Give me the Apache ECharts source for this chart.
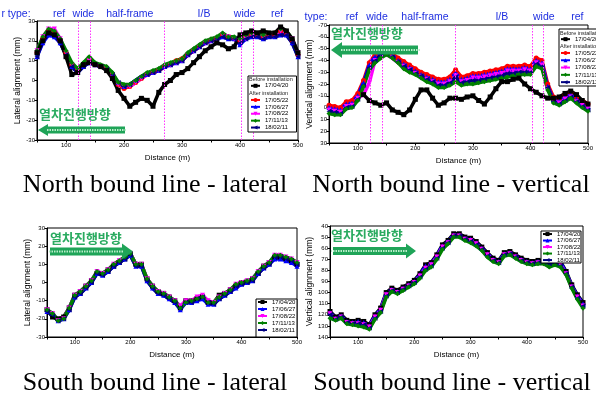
<!DOCTYPE html>
<html>
<head>
<meta charset="utf-8">
<script src="https://cdn.jsdelivr.net/npm/echarts@6/dist/echarts.min.js"></script>
<style>
html,body{margin:0;padding:0;background:#fff}
#chart{width:596px;height:395px}
</style>
</head>
<body>
<div id="chart"></div>
<script>
// distance along the line (m)
const distance = [50,60,70,80,90,100,110,120,130,140,150,160,170,180,190,200,210,220,230,240,250,260,270,280,290,300,310,320,330,340,350,360,370,380,390,400,410,420,430,440,450,460,470,480,490,500];

// north bound - lateral alignment (mm)
const nbLat0420 = [14,20,24,23,20,12,3,4,8,9,8,7,5,1,-5,-9,-13,-11,-9,-10,-13,-6,-2,0,3,4,6,9,12,15,17,19,18,16,17,23,24,25,24,25,24,24,27,25,21,14];
const nbLat0522 = [14,21,25,24,20,14,8,5,8,10,8,7,6,3,-2,-4,-3,-1,1,3,4,5,7,8,10,11,13,15,17,19,20,21,23,22,21,20,22,23,23,22,23,23,25,24,20,13];
const nbLat0627 = [12,19,23,22,19,13,7,4,7,9,8,7,6,3,-1,-3,-2,0,2,3,4,5,7,8,9,10,13,15,17,19,20,21,22,21,21,18,21,22,22,21,22,22,23,23,19,12];
const nbLat0822 = [15,22,26,26,21,14,8,5,8,10,8,7,6,3,-2,-3,-3,-1,1,3,4,5,7,8,9,10,13,15,17,19,20,21,23,22,21,20,21,23,23,22,23,23,25,24,21,14];
const nbLat1113 = [15,22,26,25,21,15,9,6,9,12,9,8,7,4,-1,-2,-2,0,2,4,5,6,8,9,10,11,14,16,18,20,21,22,24,22,22,21,23,24,24,23,24,24,26,25,21,14];
const nbLat0211 = [12,20,24,23,19,13,7,4,7,9,8,7,6,3,-1,-3,-2,0,2,3,4,5,7,8,9,10,13,15,17,19,20,21,22,21,21,19,21,22,22,21,22,22,23,23,19,12];

// north bound - vertical alignment (mm)
const nbVer0420 = [null,null,null,null,null,null,-11,-6,-4,-2,-4,2,4,6,2,-7,-15,-15,-8,-2,-4,-8,-8,-7,-9,-10,-6,-3,-9,-16,-22,-22,-24,-25,-20,-16,-13,-10,-8,-8,-9,-12,-14,-11,-6,-3];
const nbVer0522 = [-2,-1,0,-5,-6,-12,-23,-38,-45,-49,-49,-46,-42,-39,-36,-33,-30,-28,-26,-24,-24,-26,-32,-26,-27,-29,-29,-30,-31,-32,-33,-35,-35,-35,-36,-35,-42,-40,-20,-9,-8,-11,-13,-9,-6,-3];
const nbVer0627 = [0,1,2,-3,-4,-10,-21,-36,-43,-47,-47,-44,-40,-37,-34,-31,-28,-26,-24,-22,-22,-24,-29,-24,-25,-27,-27,-28,-29,-30,-31,-33,-33,-33,-34,-33,-40,-38,-18,-7,-6,-9,-11,-7,-4,-1];
const nbVer0822 = [2,3,4,-1,-2,-8,-11,-21,-40,-45,-45,-42,-38,-35,-32,-29,-26,-24,-22,-20,-20,-22,-27,-22,-23,-25,-25,-26,-27,-28,-29,-31,-31,-31,-32,-31,-38,-36,-16,-5,-4,-7,-9,-5,-2,1];
const nbVer1113 = [5,6,6,1,0,-6,-18,-32,-38,-42,-45,-42,-38,-33,-30,-28,-25,-22,-20,-17,-17,-19,-22,-19,-20,-20,-21,-22,-23,-24,-25,-26,-27,-28,-28,-28,-35,-33,-15,-4,-2,-5,-8,-4,0,3];
const nbVer0211 = [3,4,5,0,-1,-7,-19,-34,-40,-45,-46,-43,-39,-35,-32,-29,-27,-24,-22,-19,-19,-21,-26,-21,-22,-23,-23,-24,-25,-26,-27,-29,-29,-30,-30,-30,-37,-35,-17,-5,-3,-6,-9,-5,-1,2];

// south bound - lateral alignment (mm)
const sbLat0420 = [-15,-19,-20,-19,-14,-7,-5,-2,1,5,5,7,9,11,13,16,10,10,2,-2,-5,-6,-8,-10,-14,-10,-10,-9,-8,-11,-11,-7,-6,-4,-2,0,0,2,5,9,11,14,14,13,12,10];
const sbLat0627 = [-16,-17,-21,-20,-15,-8,-6,-3,0,5,4,6,9,11,13,15,9,9,1,-3,-6,-7,-9,-11,-15,-11,-11,-10,-9,-12,-12,-9,-7,-5,-3,-1,0,1,5,8,10,13,13,12,11,9];
const sbLat0822 = [-15,-17,-21,-20,-14,-7,-5,-2,1,6,5,7,10,12,14,16,10,10,2,-2,-5,-6,-8,-10,-13,-10,-10,-8,-7,-10,-11,-8,-6,-4,-1,0,1,2,6,9,11,15,15,14,13,11];
const sbLat1113 = [-15,-17,-21,-20,-14,-7,-5,-2,1,6,5,7,10,12,14,16,10,10,2,-2,-5,-6,-8,-10,-14,-11,-10,-9,-8,-11,-11,-8,-6,-4,-1,0,1,2,6,9,11,15,15,14,13,11];
const sbLat0211 = [-16,-18,-21,-20,-15,-8,-6,-3,0,5,4,6,9,11,13,15,9,9,1,-3,-6,-7,-9,-11,-14,-11,-11,-9,-8,-11,-12,-9,-7,-5,-2,-1,0,1,5,8,10,14,14,13,12,10];

// south bound - vertical alignment (mm)
const sbVer0420 = [117,122,120,125,126,125,126,129,120,114,100,96,98,95,92,89,83,75,73,66,57,53,47,47,50,51,54,59,64,69,71,64,63,66,69,71,72,71,71,69,71,72,81,93,102,109];
const sbVer0627 = [118,123,121,126,127,126,127,130,121,115,101,97,99,96,93,90,84,76,74,67,58,54,48,48,51,52,55,60,65,70,72,65,64,67,70,72,73,72,72,70,72,73,82,94,103,110];
const sbVer0822 = [119,124,122,127,128,128,129,131,122,116,102,98,100,97,94,91,85,78,75,68,59,55,49,49,52,53,56,61,66,71,73,66,65,68,71,73,74,73,73,72,73,75,83,95,104,112];
const sbVer1113 = [123,125,123,128,129,130,131,133,124,118,104,99,101,98,95,92,87,80,77,70,61,56,50,50,53,55,58,62,68,72,74,67,66,69,72,74,75,74,74,77,75,77,84,96,106,114];
const sbVer0211 = [120,124,122,127,128,128,129,132,123,117,103,98,100,97,94,91,86,79,76,69,60,55,49,49,52,54,57,61,67,71,73,66,65,68,71,73,74,73,73,74,74,76,83,95,105,112];

// section boundaries (m) and type labels (label centre in m)
const zoneBounds = [121, 142, 270, 403, 423];
const zoneLabels = ['ref', 'wide', 'half-frame', 'I/B', 'wide', 'ref'];
const zoneLabelPos = [88, 130, 210, 338, 408, 464];

const captions = ['North bound line - lateral', 'North bound line - vertical', 'South bound line - lateral', 'South bound line - vertical'];

const look = {
    '17/04/20': {color: '#000000', symbol: 'rect'},
    '17/05/22': {color: '#ff0000', symbol: 'circle'},
    '17/06/27': {color: '#0000ff', symbol: 'triangle'},
    '17/08/22': {color: '#ff00ff', symbol: 'path://M0,0L10,0L5,10Z'},
    '17/11/13': {color: '#008000', symbol: 'diamond'},
    '18/02/11': {color: '#000080', symbol: 'path://M10,0L10,10L0,5Z'}
};

const mkSeries = (gi, name, values) => ({
    type: 'line',
    name: name,
    xAxisIndex: gi,
    yAxisIndex: gi,
    data: distance.map((d, i) => [d, values[i]]),
    symbol: look[name].symbol,
    symbolSize: 5,
    itemStyle: {color: look[name].color},
    lineStyle: {color: look[name].color, width: 3.5},
    animation: false
});

const zoneMarks = {
    silent: true,
    symbol: 'none',
    label: {show: false},
    lineStyle: {color: '#ff33ff', type: [1.5, 1.5], width: 1},
    data: zoneBounds.map(v => ({xAxis: v}))
};

const grids = [
    {left: 37, top: 21, width: 261, height: 119},
    {left: 329, top: 25, width: 270, height: 118},
    {left: 47, top: 228, width: 250, height: 109},
    {left: 330, top: 226, width: 253, height: 111}
].map(g => Object.assign({show: true, borderColor: '#000', borderWidth: 1, backgroundColor: 'transparent'}, g));

const xAxisFor = (gi) => ({
    type: 'value', gridIndex: gi, min: 50, max: 500, interval: 50,
    name: 'Distance (m)', nameLocation: 'middle', nameGap: 14,
    nameTextStyle: {fontSize: 8, color: '#000', fontFamily: 'Liberation Sans'},
    axisLine: {onZero: false, lineStyle: {color: '#000', width: 1}},
    axisTick: {length: 2.5, lineStyle: {color: '#000'}},
    axisLabel: {fontSize: 6, margin: 2, color: '#000', fontFamily: 'Liberation Sans',
        formatter: v => (v % 100 === 0 ? String(v) : '')},
    splitLine: {show: false}
});

const yAxisFor = (gi, name, min, max, inverse) => ({
    type: 'value', gridIndex: gi, min: min, max: max, interval: 10, inverse: inverse,
    name: name, nameLocation: 'middle', nameGap: 13,
    nameTextStyle: {fontSize: 8.5, color: '#000', fontFamily: 'Liberation Sans'},
    axisLine: {onZero: false, lineStyle: {color: '#000', width: 1}},
    axisTick: {length: 2.5, lineStyle: {color: '#000'}},
    axisLabel: {fontSize: 6, margin: 2, color: '#000', fontFamily: 'Liberation Sans'},
    splitLine: {show: false}
});

const legendFor = (left, top, names, rowH, iconW) => ({
    orient: 'vertical', left: left, top: top, padding: 0, itemGap: 0,
    itemWidth: iconW, itemHeight: 5, data: names,
    textStyle: {fontSize: 6, lineHeight: rowH, color: '#000', fontFamily: 'Liberation Sans'},
    selectedMode: false
});

const nbSeries0 = [
    mkSeries(0, '17/05/22', nbLat0522), mkSeries(0, '17/06/27', nbLat0627), mkSeries(0, '17/08/22', nbLat0822),
    mkSeries(0, '18/02/11', nbLat0211), mkSeries(0, '17/11/13', nbLat1113), mkSeries(0, '17/04/20', nbLat0420)
];
nbSeries0[0].markLine = zoneMarks;
const nbSeries1 = [
    mkSeries(1, '17/05/22', nbVer0522), mkSeries(1, '17/06/27', nbVer0627), mkSeries(1, '17/08/22', nbVer0822),
    mkSeries(1, '18/02/11', nbVer0211), mkSeries(1, '17/11/13', nbVer1113), mkSeries(1, '17/04/20', nbVer0420)
];
nbSeries1[0].markLine = zoneMarks;
const sbSeries2 = [
    mkSeries(2, '17/04/20', sbLat0420), mkSeries(2, '17/06/27', sbLat0627), mkSeries(2, '17/08/22', sbLat0822),
    mkSeries(2, '18/02/11', sbLat0211), mkSeries(2, '17/11/13', sbLat1113)
];
const sbSeries3 = [
    mkSeries(3, '17/04/20', sbVer0420), mkSeries(3, '17/06/27', sbVer0627), mkSeries(3, '17/08/22', sbVer0822),
    mkSeries(3, '18/02/11', sbVer0211), mkSeries(3, '17/11/13', sbVer1113)
];

// arrow "열차진행방향" (direction of travel)
const arrow = (tipX, tailX, cy, headLen, headHalf, bodyHalf) => {
    const dir = tipX < tailX ? 1 : -1;
    const baseX = tipX + dir * headLen;
    return [
        {type: 'polygon', z: 100, shape: {points: [
            [tipX, cy], [baseX, cy - headHalf], [baseX, cy - bodyHalf], [tailX, cy - bodyHalf],
            [tailX, cy + bodyHalf], [baseX, cy + bodyHalf], [baseX, cy + headHalf]
        ]}, style: {fill: '#1fa458'}},
        {type: 'line', z: 101, shape: {x1: baseX - dir * 1, y1: cy, x2: tailX + dir * 2, y2: cy},
            style: {stroke: '#b9ecc9', lineWidth: 2, lineDash: [1.5, 1]}}
    ];
};
const koText = (x, y) => ({type: 'text', z: 100, x: x, y: y, style: {
    text: '열차진행방향', fontSize: 13, fontWeight: 'bold', fontFamily: 'Noto Sans CJK KR',
    fill: '#2aab60', align: 'left', verticalAlign: 'middle'}});

const blueText = (x, y, t) => ({type: 'text', x: x, y: y, style: {
    text: t, fontSize: 10.5, fontFamily: 'Liberation Sans', fill: '#1f2fe0', align: 'center', verticalAlign: 'middle'}});

const capText = (x, y, t) => ({type: 'text', x: x, y: y, style: {
    text: t, fontSize: 26, fontFamily: 'Liberation Serif', fill: '#000', align: 'center', verticalAlign: 'middle'}});

const smallText = (x, y, t) => ({type: 'text', z: 100, x: x, y: y, style: {
    text: t, fontSize: 5.5, fontFamily: 'Liberation Sans', fill: '#222', align: 'left', verticalAlign: 'middle'}});

const box = (x, y, w, h) => ({type: 'rect', z: 99, shape: {x: x, y: y, width: w, height: h},
    style: {fill: '#fff', stroke: '#000', lineWidth: 1}});

const graphics = [];
// type rows
graphics.push(blueText(16, 14, 'r type:'));
graphics.push(blueText(316, 17, 'type:'));
zoneLabels.forEach((t, i) => {
    graphics.push(blueText(37 + (zoneLabelPos[i] - 50) * 0.58, 14, t));
    graphics.push(blueText(329 + (zoneLabelPos[i] - 50) * 0.6, 17, t));
});
// captions
graphics.push(capText(155, 185, captions[0]));
graphics.push(capText(451, 185, captions[1]));
graphics.push(capText(155, 383, captions[2]));
graphics.push(capText(452, 383, captions[3]));
// direction arrows
graphics.push(koText(39, 114), ...arrow(38, 125, 130, 10, 6, 3.5));
graphics.push(koText(331, 33), ...arrow(331, 418, 50, 11, 8, 4.5));
graphics.push(koText(50, 238), ...arrow(133, 50, 251.5, 11, 8, 4));
graphics.push(koText(331, 235), ...arrow(416, 333, 251, 10, 7.5, 4));
// legend boxes
graphics.push(box(248, 76, 48.5, 56));
graphics.push(smallText(249, 79.3, 'Before installation'), smallText(249, 93.3, 'After installation'));
graphics.push(box(559, 29, 45, 57));
graphics.push(smallText(560, 33, 'Before installation'), smallText(560, 46, 'After installation'));
graphics.push(box(256, 299, 41, 38));
graphics.push(box(541, 231, 40, 32));

const option = {
    animation: false,
    backgroundColor: '#fff',
    grid: grids,
    xAxis: [xAxisFor(0), xAxisFor(1), xAxisFor(2), xAxisFor(3)],
    yAxis: [
        yAxisFor(0, 'Lateral alignment (mm)', -30, 30, false),
        yAxisFor(1, 'Vertical alignment (mm)', -70, 30, true),
        yAxisFor(2, 'Lateral alignment (mm)', -30, 30, false),
        yAxisFor(3, 'Vertical alignment (mm)', 40, 140, true)
    ],
    legend: [
        legendFor(250, 82.3, ['17/04/20'], 7, 9),
        legendFor(250, 96.5, ['17/05/22', '17/06/27', '17/08/22', '17/11/13', '18/02/11'], 6.9, 9),
        legendFor(560, 35.5, ['17/04/20'], 7.3, 9),
        legendFor(560, 49.3, ['17/05/22', '17/06/27', '17/08/22', '17/11/13', '18/02/11'], 7.3, 9),
        legendFor(257, 298.5, ['17/04/20', '17/06/27', '17/08/22', '17/11/13', '18/02/11'], 7, 9),
        legendFor(542, 230.8, ['17/04/20', '17/06/27', '17/08/22', '17/11/13', '18/02/11'], 6.5, 9)
    ].map(l => Object.assign(l, {z: 120})),
    graphic: graphics,
    series: [...nbSeries0, ...nbSeries1, ...sbSeries2, ...sbSeries3]
};

const chart = echarts.init(document.getElementById('chart'));
chart.setOption(option);
</script>
</body>
</html>
